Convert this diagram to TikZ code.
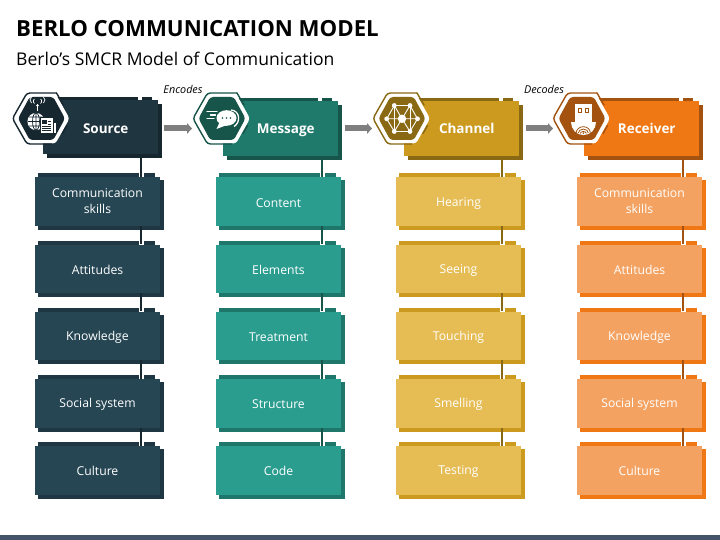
\documentclass[tikz,border=0pt]{standalone}
\usepackage{fontspec}
\setmainfont{Open Sans}
\usetikzlibrary{arrows.meta,calc}
\definecolor{hA}{HTML}{1F3540}\definecolor{sA}{HTML}{16272F}\definecolor{bA}{HTML}{264653}\definecolor{dA}{HTML}{1E3743}
\definecolor{hB}{HTML}{1F7A6B}\definecolor{sB}{HTML}{175449}\definecolor{bB}{HTML}{2A9D8F}\definecolor{dB}{HTML}{1F766B}
\definecolor{hC}{HTML}{CC9A1E}\definecolor{sC}{HTML}{8A6914}\definecolor{bC}{HTML}{E6BD54}\definecolor{dC}{HTML}{CC9A1E}
\definecolor{hD}{HTML}{F07814}\definecolor{sD}{HTML}{A3530F}\definecolor{bD}{HTML}{F4A261}\definecolor{dD}{HTML}{F07814}
\definecolor{barc}{HTML}{44546A}\definecolor{arrc}{HTML}{7F7F7F}
\tikzset{
  headbox/.style={fill=#1,draw=none,inner sep=0pt,minimum width=114.5pt,text=white,font=\bfseries\fontsize{13.5}{17}\selectfont},
  subbox/.style={fill=#1,draw=none,inner sep=0pt,minimum width=125pt,minimum height=48.5pt,text=white,align=center,font=\fontsize{12.2}{17}\selectfont},
  conn/.style={draw=#1,line width=2pt},
  notch/.style={fill=white,draw=none},
  flow/.style={draw=arrc,line width=6pt,-{Triangle[width=10.5pt,length=5pt]}},
  tag/.style={inner sep=0pt,font=\itshape\fontsize{10.8}{13}\selectfont,text=black},
  wire/.style={draw=white,line width=.9pt},
}
\newcommand{\subst}{\rule[-1pt]{0pt}{13pt}}
\newcommand{\hexpath}[2]{(-#1,0) -- (-#1/2,-#2) -- (#1/2,-#2) -- (#1,0) -- (#1/2,#2) -- (-#1/2,#2) -- cycle}
\newcommand{\hexbadge}[2]{%
  \begin{scope}[shift={(#1,118.5)}]
    \fill[white,rounded corners=3pt] \hexpath{28}{25};
    \draw[#2,line width=1.4pt,rounded corners=3pt,line cap=round] (15,-25.5) -- (-14.5,-25.5) -- (-29,0) -- (-14.5,25.5) -- (10,25.5);
    \draw[#2,line width=1.4pt,line cap=round] (15,-25.5) -- (22,-13.5);
    \draw[#2,line width=1.4pt,line cap=round] (25.5,7) -- (21,15);
    \fill[#2,rounded corners=3pt] \hexpath{23.5}{21.5};
  }
\newcommand{\hexend}{\end{scope}}
\newcommand{\shadowbox}[4]{%
  \fill[#3] (#1+3,#2+3) rectangle (#1+129,#2+#4+4);
  \fill[#3] (#1+3,#2-4) rectangle (#1+120,#2+1);
}
\begin{document}
\begin{tikzpicture}[x=1pt,y=-1pt]
\useasboundingbox (0,0) rectangle (720,540);
\fill[barc] (0,535) rectangle (720,540);
\node[anchor=base west,inner sep=0pt,font=\bfseries\fontsize{22.2}{26}\selectfont] (title) at (16,37) {BERLO COMMUNICATION MODEL};
\node[anchor=base west,inner sep=0pt,font=\fontsize{17.55}{21}\selectfont] (subtitle) at (16,66) {Berlo’s SMCR Model of Communication};

\foreach \p/\hx/\hy/\hh/\hd/\sx/\cH/\cS/\cB/\cD/\name/\ta/\tb/\tc/\td/\te in {
  a/43/100/54/0.5/35/hA/sA/bA/dA/Source/{Communication\rule{0pt}{11.5pt}\\skills\rule[-4pt]{0pt}{4pt}}/Attitudes/Knowledge/Social system/Culture,
  b/223/101/55/1.5/216/hB/sB/bB/dB/Message/Content/Elements/Treatment/Structure/Code,
  c/404/101/55/1.5/396/hC/sC/bC/dC/Channel/Hearing/Seeing/Touching/Smelling/Testing,
  d/584/101/55/1.5/577/hD/sD/bD/dD/Receiver/{Communication\rule{0pt}{11.5pt}\\skills\rule[-4pt]{0pt}{4pt}}/Attitudes/Knowledge/Social system/Culture}{
  \foreach \k/\y/\t in {1/177.5/\ta,2/244.5/\tb,3/311.5/\tc,4/379/\td,5/446/\te}{
    \shadowbox{\sx}{\y}{\cD}{48.5}
    \node[subbox=\cB] (\p\k) at (\sx+62.5,\y+24.25) {\t\subst};
  }
  \fill[\cS] (\hx+4,\hy+4) rectangle (\hx+118.5,\hy+\hh+4);
  \fill[\cS] (\hx+4,\hy-3) rectangle (\hx+109,\hy+1);
  \node[headbox=\cH,minimum height=\hh pt] (\p0) at (\hx+57.25,\hy+\hh/2) {\hspace*{11pt}\name\rule[-\hd pt]{0pt}{14pt}};
  \fill[notch] (\hx+94.5,\hy-3) rectangle (\hx+99,\hy);
  \coordinate (\p x) at (\sx+106,0);
  \foreach \i/\j/\rowy in {0/1/177.5,1/2/244.5,2/3/311.5,3/4/379,4/5/446}{
    \fill[notch] (\sx+103.5,\rowy-4) rectangle (\sx+108.5,\rowy);
    \draw[conn=\cS] (\p\i.south -| \p x) -- (\p\j.north -| \p x);
  }
}

\hexbadge{41.5}{sA}
  \fill[white] (-5.5,3) circle (8.6);
  \draw[sA,line width=.7pt] (-5.5,3) ellipse (3.5 and 8.6) (-14,3) -- (3,3) (-12.5,-1.5) -- (1.5,-1.5) (-12.5,7.5) -- (1.5,7.5) (-5.5,-5.6) -- (-5.5,11.6);
  \draw[white,line width=1pt] (-4,-7) -- (-4,-14);
  \fill[white] (-4,-13) circle (1.4);
  \draw[white,line width=.7pt] (-7,-15) arc (120:240:2.5) (-1,-15) arc (60:-60:2.5) (-10,-15.5) arc (125:235:3.5) (2,-15.5) arc (55:-55:3.5);
  \fill[sA] (-2,-1) rectangle (12.5,15.5);
  \fill[white] (-1,0) rectangle (11,14.5);
  \fill[white] (12,5) rectangle (14.5,14.5);
  \fill[sA] (.5,2) rectangle (5.5,6);
  \draw[sA,line width=.7pt] (6.5,3) -- (9.5,3) (6.5,5.5) -- (9.5,5.5) (.5,8) -- (9.5,8) (.5,10) -- (9.5,10) (.5,12.3) -- (9.5,12.3);
\hexend
\hexbadge{222}{sB}
  \draw[white,line width=1.3pt] (9,-8.5) .. controls (18,-8) and (19,4) .. (12,8);
  \fill[white] (4.5,-.5) ellipse (10 and 7.8);
  \fill[white] (-2,3) -- (-5.5,10.5) -- (5,6.5) -- cycle;
  \fill[sB] (.5,-.5) circle (.9) (4.5,-.5) circle (.9) (8.5,-.5) circle (.9);
  \draw[white,line width=1.2pt,line cap=round] (-15,-7) -- (-5,-7) (-11.5,-3.5) -- (-6.5,-3.5) (-15,0) -- (-8,0);
\hexend
\hexbadge{402}{sC}
  \coordinate (n0) at (0,.3);
  \foreach \q/\xx/\yy in {n1/-7.7/-13,n2/8/-13,n3/-15.3/.3,n4/15.5/.3,n5/-7.7/13,n6/8/13}{
    \coordinate (\q) at (\xx,\yy);
  }
  \draw[wire] (n1) -- (n2) (n2) -- (n4) (n4) -- (n6) (n6) -- (n5) (n5) -- (n3) (n3) -- (n1)
    (n0) -- (n1) (n0) -- (n2) (n0) -- (n3) (n0) -- (n4) (n0) -- (n5) (n0) -- (n6);
  \draw[wire] (-7.7,-13) -- (-7.7,13) (8,-13) -- (8,13);
  \fill[white] (n0) circle (4.2) (n1) circle (2.4) (n2) circle (2.4) (n3) circle (2.4) (n4) circle (2.4) (n5) circle (2.4) (n6) circle (2.4);
\hexend
\hexbadge{582}{sD}
  \fill[white] (-7,-14.5) rectangle (9.7,3.2);
  \draw[sD,line width=.9pt] (-4,-10) rectangle (-.5,-6.5) (3,-10) rectangle (6.5,-6.5);
  \fill[white] (14,3.6) arc (0:180:12.5 and 13) -- cycle;
  \draw[sD,line width=.8pt] (-1.7,15) arc (180:360:3 and 2) (-3.7,14.6) arc (180:360:5 and 4) (-5.7,14.2) arc (180:360:7 and 6);
  \fill[sD] (1.3,14.6) circle (.9);
\hexend

\coordinate (e1) at (164,128.5); \coordinate (e2) at (192,128.5);
\coordinate (e3) at (345,128.5); \coordinate (e4) at (372,128.5);
\coordinate (e5) at (526,128.5); \coordinate (e6) at (553,128.5);
\draw[flow] (e1) -- (e2);
\draw[flow] (e3) -- (e4);
\draw[flow] (e5) -- (e6);
\node[tag] (enc) at (183,89) {Encodes};
\node[tag] (dec) at (544,89) {Decodes};
\end{tikzpicture}
\end{document}
